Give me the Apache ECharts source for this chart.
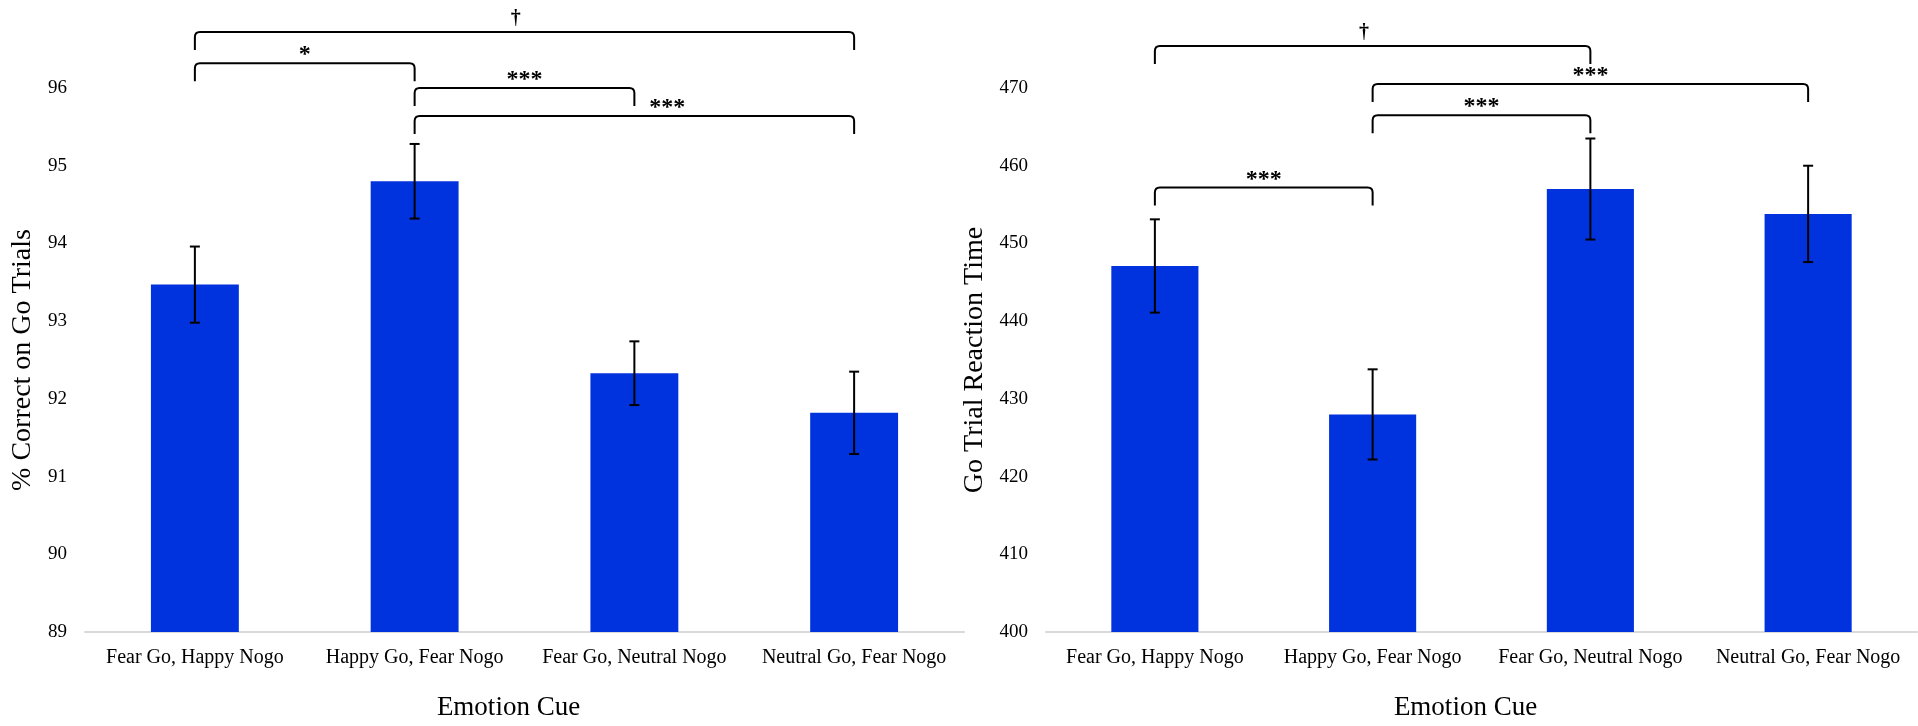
<html>
<head>
<meta charset="utf-8">
<title>Emotion Cue</title>
<script src="https://cdn.jsdelivr.net/npm/echarts@6/dist/echarts.min.js"></script>
<style>
	body { margin: 0; background: #fff; }
</style>
</head>
<body>
	<div id="main" style="width: 1918px; height: 726px;"></div>
	<script type="text/javascript">
		// 数据
		var categories = ['Fear Go, Happy Nogo', 'Happy Go, Fear Nogo', 'Fear Go, Neutral Nogo', 'Neutral Go, Fear Nogo'];

		var correctMean = [93.47, 94.80, 92.33, 91.82];
		var correctErr = [0.49, 0.48, 0.41, 0.53];

		var rtMean = [447.1, 428.0, 457.0, 453.8];
		var rtErr = [6.0, 5.8, 6.5, 6.2];

		var correctTicks = [89, 90, 91, 92, 93, 94, 95, 96];
		var rtTicks = [400, 410, 420, 430, 440, 450, 460, 470];

		// 显著性标注: [起始类别, 结束类别, 横线高度, 符号, 符号位置(可选)]
		var correctSig = [
			[0, 3, 96.72, '\u2020', 1.46],
			[0, 1, 96.32, '*'],
			[1, 2, 96.00, '***'],
			[1, 3, 95.64, '***', 2.15]
		];
		var rtSig = [
			[0, 2, 475.4, '\u2020', 0.96],
			[1, 3, 470.5, '***'],
			[1, 2, 466.5, '***'],
			[0, 1, 457.2, '***']
		];

		var fontFamily = "'Liberation Serif', 'Times New Roman', serif";
		var barColor = '#0033DD';

		function errData(mean, err) {
			var out = [];
			for (var i = 0; i < mean.length; i++) {
				out.push([i, mean[i] - err[i], mean[i] + err[i]]);
			}
			return out;
		}

		function renderErr(params, api) {
			var lo = api.coord([api.value(0), api.value(1)]);
			var hi = api.coord([api.value(0), api.value(2)]);
			var cap = 5;
			var st = { stroke: '#000', lineWidth: 2 };
			return {
				type: 'group',
				children: [
					{ type: 'line', shape: { x1: hi[0], y1: hi[1], x2: lo[0], y2: lo[1] }, style: st },
					{ type: 'line', shape: { x1: hi[0] - cap, y1: hi[1], x2: hi[0] + cap, y2: hi[1] }, style: st },
					{ type: 'line', shape: { x1: lo[0] - cap, y1: lo[1], x2: lo[0] + cap, y2: lo[1] }, style: st }
				]
			};
		}

		function makeBracketRender(sig) {
			return function (params, api) {
				var b = sig[params.dataIndex];
				var p0 = api.coord([0, b[2]]);
				var p1 = api.coord([1, b[2]]);
				var step = p1[0] - p0[0];
				var x1 = p0[0] + b[0] * step;
				var x2 = p0[0] + b[1] * step;
				var y = p0[1];
				var leg = 18, r = 5;
				var path = 'M' + x1 + ' ' + (y + leg) +
					' L' + x1 + ' ' + (y + r) +
					' Q' + x1 + ' ' + y + ' ' + (x1 + r) + ' ' + y +
					' L' + (x2 - r) + ' ' + y +
					' Q' + x2 + ' ' + y + ' ' + x2 + ' ' + (y + r) +
					' L' + x2 + ' ' + (y + leg);
				var lx = b[4] != null ? p0[0] + b[4] * step : (x1 + x2) / 2;
				var dagger = b[3] === '\u2020';
				return {
					type: 'group',
					children: [
						{ type: 'path', shape: { pathData: path }, style: { stroke: '#000', lineWidth: 2, fill: null } },
						{
							type: 'text',
							style: {
								text: b[3], x: lx, y: dagger ? y - 13 : y - 8,
								align: 'center', verticalAlign: 'middle',
								fontSize: dagger ? 20 : 24,
								fontWeight: 'bold',
								fontFamily: fontFamily, fill: '#000'
							}
						}
					]
				};
			};
		}

		function xAxisOpt(gridIndex) {
			return {
				type: 'category',
				gridIndex: gridIndex,
				data: categories,
				name: 'Emotion Cue',
				nameLocation: 'middle',
				nameGap: 62,
				nameTextStyle: { fontSize: 27, fontFamily: fontFamily, color: '#000', padding: [0, 32, 0, 0] },
				axisLine: { lineStyle: { color: '#d9d9d9', width: 2 } },
				axisTick: { show: false },
				axisLabel: { interval: 0, margin: 16, fontSize: 20, fontFamily: fontFamily, color: '#000' }
			};
		}

		function yAxisOpt(gridIndex, ticks, name, gap) {
			return {
				type: 'value',
				gridIndex: gridIndex,
				min: ticks[0],
				max: ticks[ticks.length - 1],
				interval: ticks[1] - ticks[0],
				name: name,
				nameLocation: 'middle',
				nameRotate: 90,
				nameGap: gap,
				nameTextStyle: { fontSize: 28, fontFamily: fontFamily, color: '#000' },
				splitLine: { show: false },
				axisLine: { show: false },
				axisTick: { show: false },
				axisLabel: { margin: 18, fontSize: 19, fontFamily: fontFamily, color: '#000' }
			};
		}

		var myChart = echarts.init(document.getElementById('main'));

		myChart.setOption({
			animation: false,
			grid: [
				{ left: 85, right: 954, top: 88, bottom: 92 },
				{ left: 1046, right: 1, top: 88, bottom: 92 }
			],
			xAxis: [xAxisOpt(0), xAxisOpt(1)],
			yAxis: [
				yAxisOpt(0, correctTicks, '% Correct on Go Trials', 48),
				yAxisOpt(1, rtTicks, 'Go Trial Reaction Time', 57)
			],
			series: [
				{
					type: 'bar', xAxisIndex: 0, yAxisIndex: 0,
					barWidth: '40%', itemStyle: { color: barColor },
					data: correctMean
				},
				{
					type: 'custom', xAxisIndex: 0, yAxisIndex: 0,
					renderItem: renderErr, encode: { x: 0, y: [1, 2] },
					data: errData(correctMean, correctErr), z: 5
				},
				{
					type: 'custom', xAxisIndex: 0, yAxisIndex: 0, clip: false,
					renderItem: makeBracketRender(correctSig), encode: { x: 0, y: 2 },
					data: correctSig.map(function (b) { return [b[0], b[1], b[2]]; }), z: 5
				},
				{
					type: 'bar', xAxisIndex: 1, yAxisIndex: 1,
					barWidth: '40%', itemStyle: { color: barColor },
					data: rtMean
				},
				{
					type: 'custom', xAxisIndex: 1, yAxisIndex: 1,
					renderItem: renderErr, encode: { x: 0, y: [1, 2] },
					data: errData(rtMean, rtErr), z: 5
				},
				{
					type: 'custom', xAxisIndex: 1, yAxisIndex: 1, clip: false,
					renderItem: makeBracketRender(rtSig), encode: { x: 0, y: 2 },
					data: rtSig.map(function (b) { return [b[0], b[1], b[2]]; }), z: 5
				}
			]
		});
	</script>
</body>
</html>
